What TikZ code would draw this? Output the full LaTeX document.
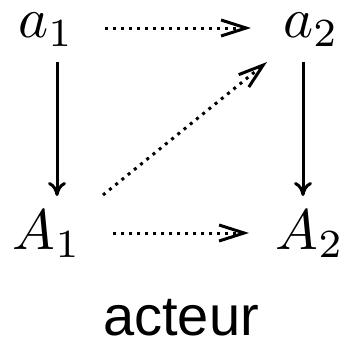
\documentclass[tikz,border=0pt]{standalone}
\usepackage{fontspec}
\newfontfamily\sansf{Liberation Sans}
\usetikzlibrary{arrows.meta}
\begin{document}
\begin{tikzpicture}[x=1pt,y=-1pt,
  lbl/.style={inner sep=1pt, scale=5.7},
  solidarr/.style={line width=3pt, -{Computer Modern Rightarrow[length=14pt,width=18pt,line width=3pt]}},
  dotarr/.style={line width=3pt, dash pattern=on 3pt off 5pt, -{Straight Barb[length=25pt,width=16pt,line width=3pt]}}]
\useasboundingbox (0,0) rectangle (341,343);
\node[lbl] (a1) at (46,30) {$a_1$};
\node[lbl] (a2) at (311,30) {$a_2$};
\node[lbl] (A1) at (47,234) {$A_1$};
\node[lbl] (A2) at (310,234) {$A_2$};
\node[inner sep=1pt, scale=5.6] (act) at (181,318) {\sansf acteur};
\coordinate (a1s) at (57,62);
\coordinate (A1n) at (57,196);
\coordinate (a2s) at (303,62);
\coordinate (A2n) at (303,196);
\coordinate (a1e) at (105,28);
\coordinate (a2w) at (251,28);
\coordinate (A1e) at (113,233);
\coordinate (A2w) at (249,233);
\coordinate (A1ne) at (103,195);
\coordinate (a2sw) at (267,62);
\draw[solidarr] (a1s) -- (A1n);
\draw[solidarr] (a2s) -- (A2n);
\draw[dotarr] (a1e) -- (a2w);
\draw[dotarr] (A1e) -- (A2w);
\draw[dotarr] (A1ne) -- (a2sw);
\end{tikzpicture}
\end{document}
